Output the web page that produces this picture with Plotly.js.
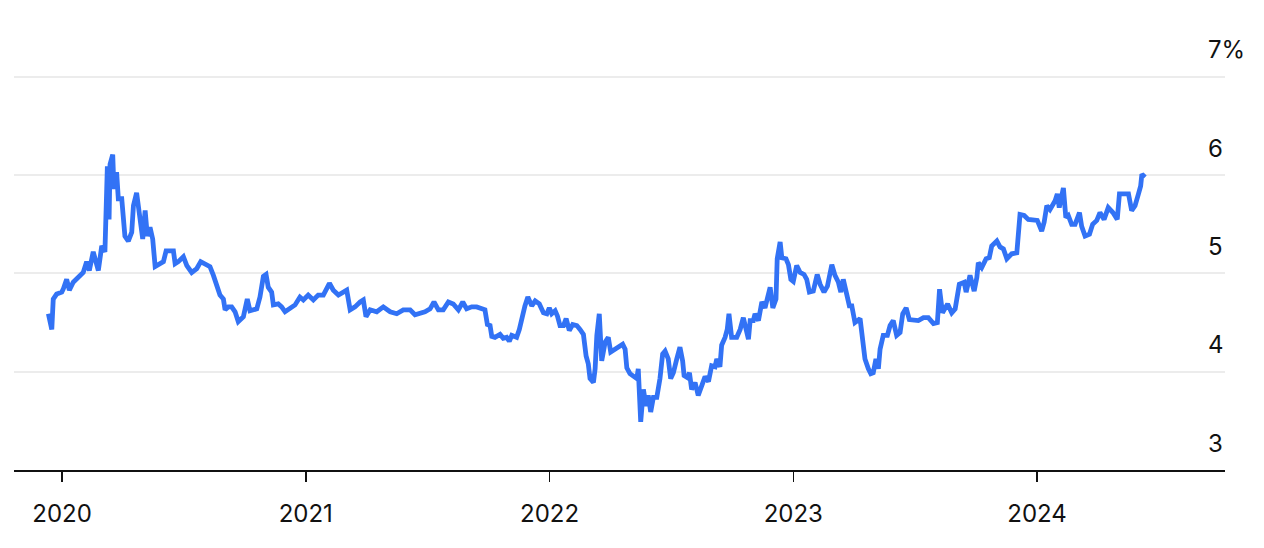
<!DOCTYPE html>
<html>
<head>
<meta charset="utf-8">
<script src="https://cdn.plot.ly/plotly-3.0.1.min.js"></script>
<style>
  html, body { margin: 0; padding: 0; background: #ffffff; }
  #chart { width: 1264px; height: 548px; }
</style>
</head>
<body>
<div id="chart"></div>
<script>
// Time expressed as fractional years
const yearFrac = [
  2019.944, 2019.958, 2019.964, 2019.978, 2019.999, 2020.005, 2020.019, 2020.030, 2020.046, 2020.067,
  2020.087, 2020.101, 2020.112, 2020.128, 2020.149, 2020.163, 2020.176, 2020.186, 2020.193, 2020.197,
  2020.208, 2020.213, 2020.224, 2020.231, 2020.245, 2020.258, 2020.272, 2020.286, 2020.293, 2020.306,
  2020.320, 2020.331, 2020.341, 2020.350, 2020.361, 2020.372, 2020.382, 2020.402, 2020.416, 2020.427,
  2020.443, 2020.457, 2020.464, 2020.477, 2020.498, 2020.512, 2020.532, 2020.553, 2020.569, 2020.587,
  2020.607, 2020.621, 2020.635, 2020.648, 2020.662, 2020.669, 2020.682, 2020.696, 2020.710, 2020.723,
  2020.744, 2020.760, 2020.771, 2020.799, 2020.812, 2020.826, 2020.837, 2020.846, 2020.860, 2020.867,
  2020.887, 2020.901, 2020.915, 2020.935, 2020.956, 2020.976, 2020.990, 2021.010, 2021.031, 2021.051,
  2021.072, 2021.097, 2021.113, 2021.134, 2021.154, 2021.168, 2021.182, 2021.202, 2021.223, 2021.236,
  2021.247, 2021.264, 2021.291, 2021.318, 2021.346, 2021.373, 2021.400, 2021.428, 2021.448, 2021.469,
  2021.489, 2021.510, 2021.526, 2021.544, 2021.564, 2021.585, 2021.605, 2021.626, 2021.644, 2021.660,
  2021.681, 2021.701, 2021.722, 2021.735, 2021.745, 2021.756, 2021.763, 2021.776, 2021.797, 2021.810,
  2021.824, 2021.835, 2021.845, 2021.865, 2021.876, 2021.890, 2021.899, 2021.911, 2021.927, 2021.941,
  2021.958, 2021.975, 2021.989, 2021.999, 2022.009, 2022.023, 2022.032, 2022.043, 2022.057, 2022.068,
  2022.081, 2022.095, 2022.112, 2022.125, 2022.139, 2022.150, 2022.159, 2022.166, 2022.180, 2022.187,
  2022.194, 2022.204, 2022.214, 2022.228, 2022.241, 2022.251, 2022.269, 2022.289, 2022.300, 2022.310,
  2022.317, 2022.330, 2022.347, 2022.358, 2022.364, 2022.374, 2022.385, 2022.396, 2022.405, 2022.415,
  2022.426, 2022.440, 2022.453, 2022.464, 2022.474, 2022.487, 2022.497, 2022.508, 2022.522, 2022.535,
  2022.546, 2022.552, 2022.565, 2022.574, 2022.583, 2022.597, 2022.610, 2022.624, 2022.638, 2022.652,
  2022.665, 2022.679, 2022.686, 2022.699, 2022.706, 2022.720, 2022.729, 2022.736, 2022.747, 2022.768,
  2022.782, 2022.795, 2022.809, 2022.816, 2022.823, 2022.836, 2022.843, 2022.857, 2022.871, 2022.884,
  2022.891, 2022.905, 2022.916, 2022.929, 2022.934, 2022.946, 2022.953, 2022.970, 2022.980, 2022.990,
  2023.000, 2023.014, 2023.028, 2023.044, 2023.055, 2023.066, 2023.082, 2023.098, 2023.110, 2023.126,
  2023.140, 2023.158, 2023.171, 2023.185, 2023.195, 2023.205, 2023.219, 2023.230, 2023.240, 2023.253,
  2023.274, 2023.285, 2023.294, 2023.308, 2023.318, 2023.328, 2023.339, 2023.349, 2023.356, 2023.369,
  2023.386, 2023.397, 2023.410, 2023.424, 2023.438, 2023.449, 2023.463, 2023.476, 2023.493, 2023.513,
  2023.534, 2023.554, 2023.575, 2023.591, 2023.600, 2023.612, 2023.633, 2023.650, 2023.664, 2023.681,
  2023.701, 2023.709, 2023.725, 2023.742, 2023.753, 2023.759, 2023.773, 2023.791, 2023.804, 2023.814,
  2023.835, 2023.848, 2023.862, 2023.876, 2023.896, 2023.917, 2023.930, 2023.947, 2023.964, 2023.985,
  2024.001, 2024.019, 2024.029, 2024.040, 2024.053, 2024.074, 2024.083, 2024.091, 2024.108, 2024.118,
  2024.128, 2024.142, 2024.156, 2024.174, 2024.183, 2024.197, 2024.215, 2024.228, 2024.245, 2024.258,
  2024.275, 2024.292, 2024.311, 2024.329, 2024.338, 2024.357, 2024.375, 2024.388, 2024.402, 2024.416,
  2024.425, 2024.430, 2024.443
];

// Yield, percent
const yieldPct = [
  4.59, 4.43, 4.74, 4.79, 4.81, 4.84, 4.94, 4.83, 4.91, 4.96,
  5.01, 5.12, 5.03, 5.22, 5.03, 5.28, 5.22, 6.09, 5.55, 6.11,
  6.21, 5.86, 6.03, 5.76, 5.76, 5.38, 5.33, 5.42, 5.69, 5.82,
  5.52, 5.35, 5.64, 5.38, 5.47, 5.35, 5.07, 5.10, 5.12, 5.23,
  5.23, 5.23, 5.10, 5.12, 5.17, 5.08, 5.01, 5.05, 5.12, 5.09,
  5.07, 4.98, 4.88, 4.78, 4.74, 4.63, 4.66, 4.66, 4.61, 4.51,
  4.56, 4.74, 4.62, 4.64, 4.76, 4.97, 4.99, 4.86, 4.81, 4.68,
  4.69, 4.66, 4.61, 4.64, 4.68, 4.76, 4.73, 4.78, 4.73, 4.78,
  4.78, 4.90, 4.83, 4.78, 4.81, 4.83, 4.63, 4.66, 4.71, 4.73,
  4.56, 4.63, 4.61, 4.66, 4.61, 4.59, 4.63, 4.63, 4.58, 4.59,
  4.61, 4.64, 4.71, 4.63, 4.63, 4.71, 4.69, 4.63, 4.71, 4.64,
  4.66, 4.66, 4.64, 4.63, 4.48, 4.47, 4.36, 4.35, 4.38, 4.34,
  4.35, 4.31, 4.37, 4.35, 4.43, 4.60, 4.67, 4.76, 4.67, 4.72,
  4.69, 4.60, 4.59, 4.65, 4.59, 4.62, 4.57, 4.47, 4.47, 4.54,
  4.42, 4.48, 4.47, 4.43, 4.38, 4.16, 4.08, 3.93, 3.89, 4.03,
  4.37, 4.59, 4.11, 4.30, 4.35, 4.20, 4.23, 4.25, 4.28, 4.23,
  4.04, 3.98, 3.94, 3.93, 4.03, 3.49, 3.82, 3.65, 3.76, 3.59,
  3.74, 3.74, 3.93, 4.18, 4.21, 4.13, 3.93, 3.99, 4.13, 4.25,
  4.11, 3.96, 3.94, 3.99, 3.82, 3.89, 3.76, 3.86, 3.95, 3.90,
  4.06, 4.05, 4.13, 4.05, 4.27, 4.35, 4.43, 4.59, 4.35, 4.35,
  4.43, 4.55, 4.43, 4.33, 4.52, 4.52, 4.59, 4.52, 4.71, 4.65,
  4.72, 4.86, 4.65, 4.74, 5.15, 5.32, 5.16, 5.15, 5.09, 4.94,
  4.92, 5.08, 5.01, 4.99, 4.94, 4.81, 4.82, 4.99, 4.89, 4.81,
  4.87, 5.09, 4.98, 4.91, 4.81, 4.94, 4.79, 4.67, 4.67, 4.50,
  4.54, 4.33, 4.13, 4.03, 3.98, 3.99, 4.13, 4.03, 4.23, 4.37,
  4.37, 4.47, 4.52, 4.37, 4.40, 4.59, 4.65, 4.53, 4.53, 4.52,
  4.55, 4.55, 4.49, 4.50, 4.84, 4.60, 4.69, 4.60, 4.64, 4.89,
  4.91, 4.81, 4.98, 4.82, 4.96, 5.11, 5.06, 5.15, 5.16, 5.28,
  5.33, 5.27, 5.25, 5.15, 5.20, 5.21, 5.60, 5.59, 5.55, 5.55,
  5.54, 5.43, 5.52, 5.69, 5.65, 5.74, 5.81, 5.67, 5.87, 5.57,
  5.59, 5.50, 5.50, 5.62, 5.48, 5.38, 5.40, 5.50, 5.54, 5.62,
  5.55, 5.67, 5.62, 5.55, 5.81, 5.81, 5.81, 5.64, 5.69, 5.81,
  5.89, 6.01, 5.98
];

const xTickVals = [2020, 2021, 2022, 2023, 2024];
const xTickText = ['2020', '2021', '2022', '2023', '2024'];
const yTickVals = [3, 4, 5, 6, 7];
const yTickText = ['3', '4', '5', '6', '7%'];

const FONT = 'Inter, "Liberation Sans", Arial, sans-serif';

const trace = {
  x: yearFrac,
  y: yieldPct,
  type: 'scatter',
  mode: 'lines',
  line: { color: '#3272f5', width: 4.8, shape: 'linear' },
  hoverinfo: 'skip'
};

const annotations = yTickVals.map((v, i) => ({
  xref: 'paper', yref: 'y',
  x: 1, y: v,
  xanchor: 'left', yanchor: 'middle',
  xshift: -19, yshift: 27,
  text: yTickText[i],
  showarrow: false,
  font: { family: FONT, size: 24, color: '#111111' }
}));

const layout = {
  width: 1264,
  height: 548,
  margin: { l: 14, r: 39, t: 72, b: 78, pad: 0 },
  paper_bgcolor: '#ffffff',
  plot_bgcolor: '#ffffff',
  showlegend: false,
  font: { family: FONT, size: 24, color: '#111111' },
  xaxis: {
    type: 'linear',
    range: [2019.803, 2024.771],
    tickmode: 'array',
    tickvals: xTickVals,
    ticktext: xTickText,
    ticks: 'outside',
    ticklen: 10,
    tickwidth: 1.5,
    tickcolor: '#111111',
    ticklabelstandoff: 12,
    showgrid: false,
    zeroline: false,
    showline: true,
    linecolor: '#111111',
    linewidth: 1.5,
    tickfont: { family: FONT, size: 24, color: '#111111' },
    fixedrange: true
  },
  yaxis: {
    range: [3, 7.05],
    tickmode: 'array',
    tickvals: yTickVals,
    showticklabels: false,
    ticks: '',
    showgrid: true,
    gridcolor: '#ececec',
    gridwidth: 2,
    zeroline: false,
    showline: false,
    fixedrange: true
  },
  annotations: annotations
};

Plotly.newPlot('chart', [trace], layout, { displayModeBar: false, staticPlot: true });
</script>
</body>
</html>
